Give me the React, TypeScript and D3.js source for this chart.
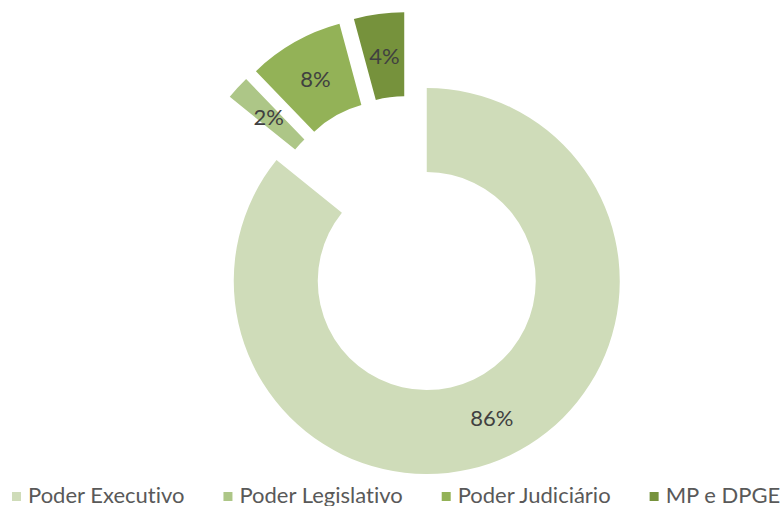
import React, { useRef, useEffect } from "react";
import * as d3 from "d3";

const categories = ["Poder Executivo", "Poder Legislativo", "Poder Judiciário", "MP e DPGE"];
const shares = [85.8, 2.0, 8.0, 4.2];
const labels = ["86%", "2%", "8%", "4%"];
const colors = ["#CFDCB9", "#ADC687", "#93B257", "#76923C"];

export default function App() {
  const svgRef = useRef<SVGSVGElement>(null);

  useEffect(() => {
    const svg = d3.select(svgRef.current);
    svg.selectAll("*").remove();

    const width = 780;
    const height = 506;
    const cx = 409.5;
    const cy = 245;
    const outerR = 193;
    const innerR = 109;
    const explode = 40;
    const font = "Lato, 'Open Sans', sans-serif";

    const pie = d3
      .pie<number>()
      .sort(null)
      .value((d) => d)
      .startAngle(0)
      .endAngle(2 * Math.PI);
    const arc = d3.arc<d3.PieArcDatum<number>>().innerRadius(innerR).outerRadius(outerR);

    const arcs = pie(shares);

    const g = svg.append("g").attr("transform", `translate(${cx}, ${cy})`);

    // each slice is pushed out along its middle angle
    const slice = g
      .selectAll(".slice")
      .data(arcs)
      .enter()
      .append("g")
      .attr("class", "slice")
      .attr("transform", (d) => {
        const a = (d.startAngle + d.endAngle) / 2;
        return `translate(${Math.sin(a) * explode}, ${-Math.cos(a) * explode})`;
      });

    slice
      .append("path")
      .attr("d", arc)
      .attr("fill", (d, i) => colors[i]);

    slice
      .append("text")
      .attr("x", (d) => arc.centroid(d)[0])
      .attr("y", (d) => arc.centroid(d)[1])
      .attr("text-anchor", "middle")
      .attr("dominant-baseline", "central")
      .attr("fill", "#404040")
      .style("font-family", font)
      .style("font-size", "22px")
      .style("font-variant-ligatures", "none")
      .text((d, i) => labels[i]);

    // legend along the bottom
    const legend = svg.append("g").attr("transform", `translate(12, ${height - 14})`);
    let x = 0;
    categories.forEach((c, i) => {
      legend
        .append("rect")
        .attr("x", x)
        .attr("y", 0)
        .attr("width", 9)
        .attr("height", 9)
        .attr("fill", colors[i]);
      const t = legend
        .append("text")
        .attr("x", x + 16)
        .attr("y", 11)
        .attr("fill", "#595959")
        .style("font-family", font)
        .style("font-size", "22px")
        .style("font-variant-ligatures", "none")
        .text(c);
      const w = (t.node() as SVGTextElement).getComputedTextLength();
      x += 16 + w + 39;
    });

    svg.attr("width", width).attr("height", height);
  }, []);

  return (
    <div style={{ position: "absolute", left: 0, top: 0 }}>
      <svg ref={svgRef} width={780} height={506} style={{ display: "block", background: "#fff" }}></svg>
    </div>
  );
}
